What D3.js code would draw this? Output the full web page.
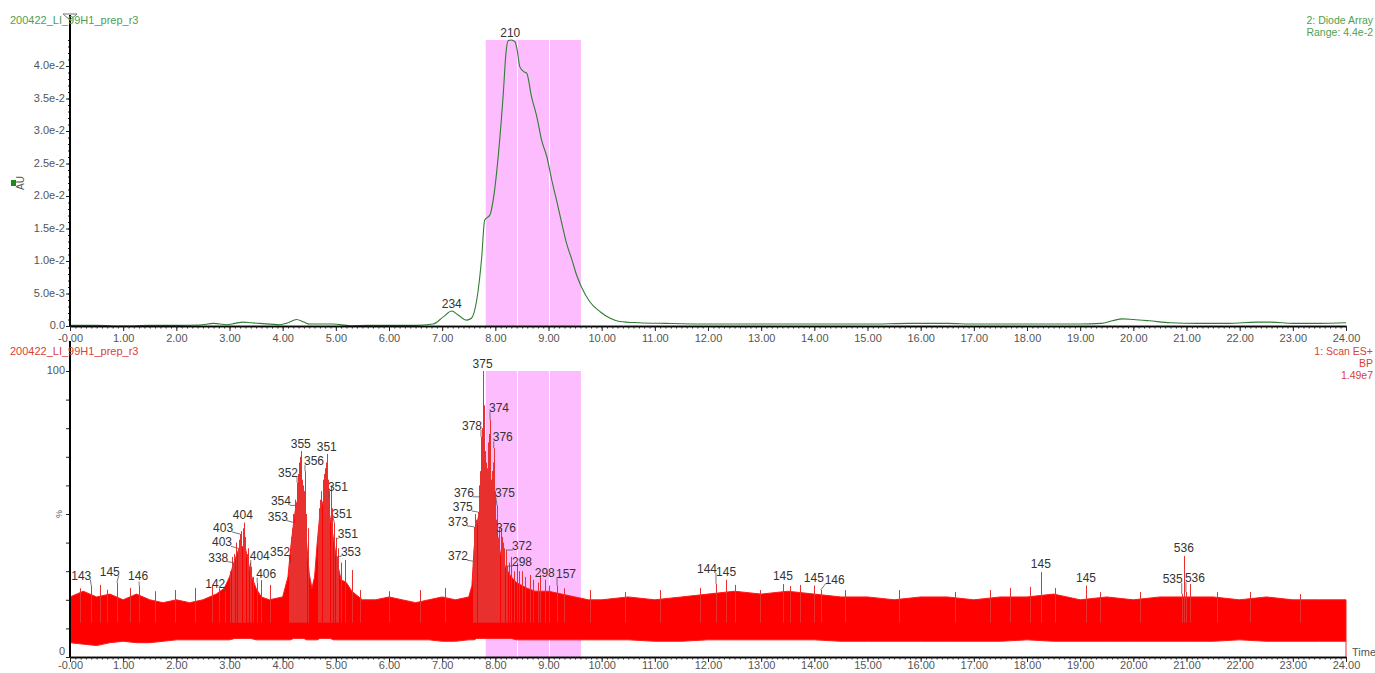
<!DOCTYPE html>
<html>
<head>
<meta charset="utf-8">
<script src="https://cdn.jsdelivr.net/npm/d3@7"></script>
<style>
  body { margin: 0; background: #fff; }
  svg { display: block; }
  text { font-family: "Liberation Sans", Arial, sans-serif; }
</style>
</head>
<body>
<svg id="chart" width="1375" height="673"></svg>
<script>
// ---------- Diode array (UV) trace ----------
const uvTime = [0, 0.5, 1.0, 1.5, 2.0, 2.44, 2.7, 2.95, 3.1, 3.26, 3.4, 3.57, 3.95, 4.1, 4.26, 4.4, 4.51, 4.75, 4.95, 5.27, 5.6, 6.0, 6.5, 6.83, 7.02, 7.18, 7.30, 7.46, 7.55, 7.65, 7.74, 7.80, 7.90, 7.96, 8.06, 8.15, 8.20, 8.24, 8.30, 8.37, 8.41, 8.46, 8.54, 8.59, 8.68, 8.78, 8.87, 8.97, 9.06, 9.15, 9.25, 9.34, 9.44, 9.53, 9.62, 9.78, 9.97, 10.16, 10.34, 10.7, 11.2, 12.0, 13.0, 14.0, 15.0, 15.8, 16.5, 17.0, 18.0, 19.0, 19.4, 19.6, 19.8, 20.0, 20.3, 20.7, 21.2, 21.8, 22.3, 22.6, 23.0, 23.5, 24.0];
const uvValue = [0.0001, 0.0001, 0.0000, 0.0001, 0.0001, 0.00015, 0.0004, 0.0002, 0.0004, 0.0006, 0.0005, 0.0004, 0.0002, 0.0005, 0.0010, 0.0006, 0.0003, 0.0003, 0.0003, 0.00005, 0.0001, 0.0001, 0.0001, 0.0003, 0.0014, 0.0023, 0.0017, 0.0009, 0.0012, 0.0040, 0.0102, 0.0163, 0.0171, 0.0194, 0.0266, 0.0358, 0.0420, 0.0439, 0.0440, 0.0437, 0.0425, 0.0399, 0.0391, 0.0389, 0.0353, 0.0322, 0.0286, 0.0260, 0.0225, 0.0194, 0.0158, 0.0127, 0.0102, 0.0078, 0.0060, 0.0037, 0.0022, 0.0012, 0.0007, 0.0005, 0.0004, 0.0003, 0.0003, 0.0003, 0.0003, 0.0004, 0.0004, 0.0003, 0.0003, 0.0003, 0.0004, 0.0008, 0.0011, 0.0010, 0.0008, 0.0005, 0.0004, 0.0004, 0.0006, 0.0006, 0.0004, 0.0004, 0.0005];
const uvPeakTime = [7.18, 8.28];
const uvPeakValue = [0.0023, 0.0438];
const uvPeakLabel = ["234", "210"];

// ---------- Base peak (ES+) trace: dense band envelope ----------
const ticTime = [0, 0.25, 0.5, 0.75, 1.0, 1.25, 1.5, 1.75, 2.0, 2.25, 2.5, 2.75, 2.9, 3.0, 3.1, 3.2, 3.3, 3.4, 3.5, 3.6, 3.75, 4.0, 4.1, 4.15, 4.2, 4.25, 4.3, 4.35, 4.4, 4.45, 4.5, 4.55, 4.6, 4.65, 4.7, 4.75, 4.8, 4.85, 4.9, 4.95, 5.0, 5.05, 5.1, 5.2, 5.3, 5.5, 5.75, 6.0, 6.25, 6.5, 6.75, 7.0, 7.25, 7.5, 7.56, 7.6, 7.65, 7.7, 7.75, 7.8, 7.85, 7.9, 7.95, 8.0, 8.05, 8.1, 8.2, 8.3, 8.4, 8.5, 8.6, 8.75, 9.0, 9.25, 9.5, 9.75, 10.0, 10.5, 11.0, 11.5, 12.0, 12.5, 13.0, 13.5, 14.0, 14.5, 15.0, 15.5, 16.0, 16.5, 17.0, 17.5, 18.0, 18.5, 19.0, 19.5, 20.0, 20.5, 21.0, 21.5, 22.0, 22.5, 23.0, 23.5, 24.0];
const ticUpper = [21, 23, 21, 22, 20, 22, 20, 19, 20, 19, 20, 22, 24, 28, 34, 39, 38, 29, 24, 21, 20, 21, 28, 38, 46, 53, 56, 54, 50, 40, 29, 24, 28, 40, 50, 54, 56, 53, 48, 42, 36, 31, 27, 26, 23, 20, 20, 21, 20, 19, 20, 21, 20, 21, 25, 38, 46, 51, 54, 56, 54, 53, 50, 46, 40, 36, 31, 28, 26, 25, 24, 23, 23, 22, 21, 20, 20, 21, 20, 21, 22, 23, 22, 23, 22, 21, 21, 20, 21, 21, 20, 21, 21, 22, 20, 21, 20, 21, 21, 21, 20, 21, 20, 20, 20];
const ticLower = [5, 4.5, 4, 5, 5.5, 5, 5, 5.5, 6, 6, 6, 6, 6, 6, 6.5, 6.5, 6.5, 6.5, 6, 6, 6, 6, 6, 6, 6.5, 6.5, 6.5, 6.5, 6.5, 6, 6, 6, 6, 6, 6.5, 6.5, 6.5, 6.5, 6.5, 6, 6, 6, 6, 6, 6, 6, 6, 6, 6, 6, 6, 5.5, 5.5, 6, 6, 6, 6.5, 6.5, 6.5, 6.5, 6.5, 6.5, 6.5, 6.5, 6.5, 6.5, 6.5, 6.5, 6, 6, 6, 6, 6, 6, 6, 6, 6, 6, 5.5, 5.5, 6, 6, 6, 6, 6, 5.5, 5.5, 5.5, 5.5, 5.5, 5.5, 5.5, 6, 5.5, 5.5, 5.5, 5.5, 5.5, 5.5, 5.5, 6, 5.5, 5.5, 5.5, 5.5];

// Individual spikes rising above the band
const spikeTime = [0.18, 0.56, 0.7, 1.13, 1.6, 1.97, 2.35, 2.67, 2.8,
  3.0, 3.05, 3.08, 3.13, 3.18, 3.22, 3.25, 3.28, 3.3, 3.33, 3.35, 3.38, 3.45, 3.6, 3.76,
  4.12, 4.16, 4.18, 4.2, 4.23, 4.24, 4.28, 4.3, 4.31, 4.33, 4.36, 4.38, 4.4, 4.44, 4.47, 4.48,
  4.66, 4.69, 4.7, 4.72, 4.75, 4.77, 4.8, 4.81, 4.85, 4.88, 4.9, 4.92, 4.93, 4.96, 5.05, 5.1, 5.17, 5.3, 5.45,
  6.0, 6.58, 7.05, 7.59, 7.62, 7.63, 7.69, 7.72, 7.74, 7.75, 7.78, 7.8, 7.82, 7.84, 7.86, 7.88, 7.92, 7.93, 7.95, 7.99, 8.0, 8.02, 8.07, 8.1, 8.12, 8.15, 8.17, 8.25, 8.3, 8.35, 8.4, 8.45, 8.5, 8.55, 8.65, 8.7, 8.8, 8.84, 9.0, 9.3,
  9.78, 10.44, 11.1, 11.85, 12.5, 12.98, 13.54, 13.73, 14.58, 15.6, 16.64, 17.3, 17.68, 18.05, 18.52, 19.37, 20.12, 21.06, 21.57, 22.19, 23.13];
const spikeValue = [24, 25.2, 23.5, 24.1, 23, 23.4, 24.1, 25.2, 24,
  30, 35, 36, 40, 41, 44, 45, 40, 42, 36, 38, 33, 28, 26.9, 25.2,
  35, 42, 45, 50, 52, 55, 64, 66, 68, 70, 62, 60, 58, 50, 45, 40,
  45, 52, 55, 58, 62, 64, 66, 68, 62, 58, 60, 52, 50, 45, 38, 33, 33.9, 30.4, 23.4,
  23, 23.4, 24.1, 40, 50, 48, 60, 65, 70, 80, 88, 72, 68, 66, 75, 78, 62, 65, 68, 58, 55, 48, 45, 45, 42, 40, 38, 33, 35, 30, 33, 30, 30, 28, 28.7, 27, 26, 28.7, 25, 24,
  23.4, 22.7, 23.4, 24.1, 25.2, 23.4, 24.8, 25.2, 23.4, 23.4, 22.7, 23.4, 24.1, 24.5, 24.1, 22.7, 22.7, 25.5, 22.7, 22.7, 22.0];

// Annotated base peaks (m/z)
const msPeakTime = [0.40, 0.88, 1.30, 2.92, 3.07, 3.16, 3.20, 3.27, 3.40, 3.52, 4.14, 4.21, 4.25, 4.27, 4.34, 4.42, 4.83, 4.87, 4.97, 5.00, 5.02, 7.76, 7.90, 7.73, 7.97, 7.71, 8.03, 7.67, 7.60, 8.05, 7.58, 8.20, 8.22, 8.93, 9.16, 12.15, 12.34, 13.41, 13.99, 14.12, 18.26, 19.11, 20.95, 20.91, 20.99];
const msPeakValue = [25, 26, 25, 23, 33, 38, 43, 47, 31.5, 26, 33, 47, 53, 61, 72, 65, 71, 55.5, 47, 41.5, 35, 100, 83, 77, 73, 56, 53, 50.7, 45.5, 41.6, 33.5, 37.4, 31.8, 27, 25, 25.5, 27, 25.5, 25, 23.5, 29.7, 25, 35.3, 22, 22.7];
const msPeakLabel = ["143", "145", "146", "142", "338", "403", "403", "404", "404", "406", "352", "353", "354", "352", "355", "356", "351", "351", "351", "351", "353", "375", "374", "378", "376", "376", "375", "375", "373", "376", "372", "372", "298", "298", "157", "144", "145", "145", "145", "146", "145", "145", "536", "535", "536"];

// Collected fractions (minutes)
const fractionEdges = [7.82, 8.41, 9.01, 9.61];

// Axis ticks
const timeMajor = d3.range(0, 24.001, 1);
const timeMinor = d3.range(0, 24.001, 0.1);
const uvMajor = d3.range(0, 0.0401, 0.005);
const uvMinor = d3.range(0, 0.0441, 0.001);
const msTicks = d3.range(0, 100.1, 10);

// ---------- layout ----------
const svg = d3.select("#chart");
const x = d3.scaleLinear([0, 24], [70, 1346]);
const yUV = d3.scaleLinear([0, 0.044], [326, 40]);
const yMS = d3.scaleLinear([0, 100], [657, 371]);

// label placement [dx, dy] relative to the peak apex (label centre)
const uvLabelOffset = [[0, -7], [0, -8]];
const msLabelOffset = [[-10, -10], [-7, -11], [-1, -10], [-10, -7], [-15, -5], [-16, -6], [-17, -6], [-1, -8], [9, -11], [9, -9],
  [-10, -11], [-16, -6], [-15, -4], [-9, -10], [0, -7], [9, -10], [0, -7], [9, -11], [8, -9], [12, -4], [14, -5],
  [0, -7], [9, -12], [-9, -11], [9, -11], [-16, -4], [8, -12], [-15, -5], [-16, -5], [8, -10], [-15, -5], [16, -4], [15, -4], [0, -7], [9, -12],
  [-9, -15], [0, -8], [0, -8], [0, -8], [14, -10], [0, -8], [0, -8], [0, -8], [-9, -15], [9, -14]];

const GREEN_TEXT = "#4f9f4f";
const RED_TEXT = "#d9403c";
const TICK_TEXT = "#555";

// ---------- fraction bands ----------
function drawFractions(yTop, yBottom) {
  const g = svg.append("g");
  g.append("rect")
    .attr("x", x(fractionEdges[0])).attr("y", yTop)
    .attr("width", x(fractionEdges[fractionEdges.length - 1]) - x(fractionEdges[0]))
    .attr("height", yBottom - yTop)
    .attr("fill", "#fdbcfd");
  g.selectAll("line").data(fractionEdges.slice(1, -1)).join("line")
    .attr("x1", d => Math.round(x(d)) + 0.5).attr("x2", d => Math.round(x(d)) + 0.5)
    .attr("y1", yTop).attr("y2", yBottom)
    .attr("stroke", "#fff").attr("stroke-width", 1);
}
drawFractions(yUV(0.044), yUV(0));
drawFractions(yMS(100), yMS(0));

// ---------- UV trace ----------
const uvData = uvTime.map((t, i) => [t, uvValue[i]]);
svg.append("path")
  .datum(uvData)
  .attr("d", d3.line().x(d => x(d[0])).y(d => yUV(d[1])).curve(d3.curveMonotoneX))
  .attr("fill", "none").attr("stroke", "#2f7d32").attr("stroke-width", 1.1);

// ---------- MS trace ----------
const ticData = ticTime.map((t, i) => [t, ticLower[i], ticUpper[i]]);
svg.append("path")
  .datum(ticData)
  .attr("d", d3.area().x(d => x(d[0])).y0(d => yMS(d[1])).y1(d => yMS(d[2])))
  .attr("fill", "#ff0000").attr("stroke", "#ff1a1a").attr("stroke-width", 1);

const spikes = spikeTime.map((t, i) => [t, spikeValue[i]])
  .concat(msPeakTime.map((t, i) => [t, msPeakValue[i]]));
svg.append("g").selectAll("line").data(spikes).join("line")
  .attr("x1", d => Math.round(x(d[0])) + 0.5).attr("x2", d => Math.round(x(d[0])) + 0.5)
  .attr("y1", yMS(12)).attr("y2", d => yMS(d[1]))
  .attr("stroke", "#e8302e").attr("stroke-width", 1);

// end of acquisition drop
svg.append("line")
  .attr("x1", x(24)).attr("x2", x(24))
  .attr("y1", yMS(ticLower[ticLower.length - 1])).attr("y2", yMS(0))
  .attr("stroke", "#e8302e").attr("stroke-width", 1);

// ---------- peak labels ----------
function drawLabels(times, values, labels, offsets, xs, ys) {
  const g = svg.append("g");
  times.forEach((t, i) => {
    const px = xs(t), py = ys(values[i]);
    const lx = px + offsets[i][0], ly = py + offsets[i][1];
    const txt = g.append("text")
      .attr("x", lx).attr("y", ly + 4)
      .attr("text-anchor", "middle")
      .attr("font-size", 12).attr("fill", "#333")
      .text(labels[i]);
    const w = txt.node().getComputedTextLength();
    const dx = offsets[i][0];
    let sx, sy;
    if (dx <= -4) { sx = lx + w / 2 - 1; sy = ly + 4; }
    else if (dx >= 4) { sx = lx - w / 2 + 1; sy = ly + 4; }
    else if (offsets[i][1] <= -9) { sx = px; sy = ly + 6; }
    else return;
    g.append("line")
      .attr("x1", sx).attr("y1", sy).attr("x2", px).attr("y2", py)
      .attr("stroke", "#555").attr("stroke-width", 0.8);
  });
}
drawLabels(uvPeakTime, uvPeakValue, uvPeakLabel, uvLabelOffset, x, yUV);
drawLabels(msPeakTime, msPeakValue, msPeakLabel, msLabelOffset, x, yMS);

// ---------- axes ----------
function timeAxis(yPos, labelGap) {
  const fmt = d => d === 0 ? "-0.00" : d.toFixed(2);
  const major = svg.append("g").attr("transform", `translate(0,${yPos})`)
    .call(d3.axisBottom(x).tickValues(timeMajor).tickFormat(fmt).tickSize(5).tickSizeOuter(0));
  const minor = svg.append("g").attr("transform", `translate(0,${yPos})`)
    .call(d3.axisBottom(x).tickValues(timeMinor).tickFormat("").tickSize(2.5).tickSizeOuter(0));
  [major, minor].forEach(g => {
    g.select(".domain").attr("stroke", "#000").attr("stroke-width", 1.6);
    g.selectAll(".tick line").attr("stroke", "#222");
  });
  major.selectAll(".tick text")
    .attr("font-family", "'Liberation Sans', Arial, sans-serif")
    .attr("font-size", 11).attr("fill", TICK_TEXT).attr("y", labelGap).attr("dy", "0.71em");
}
timeAxis(yUV(0), 8);
timeAxis(yMS(0), 4);

// UV intensity axis
const uvMajorG = svg.append("g").attr("transform", `translate(${x(0)},0)`)
  .call(d3.axisLeft(yUV).tickValues(uvMajor)
    .tickFormat(d => d === 0 ? "0.0" : d3.format(".1e")(d))
    .tickSize(4).tickSizeOuter(0));
const uvMinorG = svg.append("g").attr("transform", `translate(${x(0)},0)`)
  .call(d3.axisLeft(yUV).tickValues(uvMinor).tickFormat("").tickSize(2).tickSizeOuter(0));
[uvMajorG, uvMinorG].forEach(g => { g.select(".domain").remove(); g.selectAll(".tick line").attr("stroke", "#222"); });
uvMajorG.selectAll(".tick text").attr("font-family", "'Liberation Sans', Arial, sans-serif")
  .attr("font-size", 11).attr("fill", TICK_TEXT).attr("x", -5).attr("dy", "0.25em");
svg.append("line").attr("x1", x(0)).attr("x2", x(0)).attr("y1", yUV(0)).attr("y2", 15)
  .attr("stroke", "#000").attr("stroke-width", 2);

// MS relative abundance axis
const msG = svg.append("g").attr("transform", `translate(${x(0)},0)`)
  .call(d3.axisLeft(yMS).tickValues(msTicks)
    .tickFormat(d => (d === 0 || d === 100) ? String(d) : "")
    .tickSize(4).tickSizeOuter(0));
msG.select(".domain").remove();
msG.selectAll(".tick line").attr("stroke", "#222");
msG.selectAll(".tick text").attr("font-family", "'Liberation Sans', Arial, sans-serif")
  .attr("font-size", 11).attr("fill", TICK_TEXT).attr("x", -5)
  .attr("dy", d => d === 0 ? "-0.2em" : "0.25em");
svg.append("line").attr("x1", x(0)).attr("x2", x(0)).attr("y1", yMS(0)).attr("y2", 341)
  .attr("stroke", "#000").attr("stroke-width", 2);

// axis titles
svg.append("text").attr("transform", `translate(${x(0) - 8},${yMS(50)}) rotate(-90)`)
  .attr("text-anchor", "middle").attr("font-size", 9).attr("fill", TICK_TEXT).text("%");
svg.append("text").attr("transform", "translate(24,183) rotate(-90)")
  .attr("text-anchor", "middle").attr("font-size", 10).attr("fill", TICK_TEXT).text("AU");
svg.append("rect").attr("x", 11).attr("y", 180).attr("width", 5).attr("height", 6).attr("fill", "#1b8a1b");
svg.append("text").attr("x", 1352).attr("y", 656).attr("font-size", 11).attr("fill", TICK_TEXT).text("Time");

// top-of-axis marker
svg.append("path")
  .attr("d", `M${x(0) - 7},14 L${x(0) + 7},14 L${x(0)},20 Z`)
  .attr("fill", "none").attr("stroke", "#777").attr("stroke-width", 1);

// ---------- headers ----------
svg.append("text").attr("x", 10).attr("y", 24).attr("font-size", 11).attr("fill", GREEN_TEXT)
  .text("200422_LI_99H1_prep_r3");
svg.append("text").attr("x", 1373).attr("y", 24).attr("text-anchor", "end").attr("font-size", 10.5).attr("fill", GREEN_TEXT)
  .text("2: Diode Array");
svg.append("text").attr("x", 1373).attr("y", 36).attr("text-anchor", "end").attr("font-size", 10.5).attr("fill", GREEN_TEXT)
  .text("Range: 4.4e-2");
svg.append("text").attr("x", 10).attr("y", 355).attr("font-size", 11).attr("fill", RED_TEXT)
  .text("200422_LI_99H1_prep_r3");
svg.append("text").attr("x", 1373).attr("y", 355).attr("text-anchor", "end").attr("font-size", 10.5).attr("fill", RED_TEXT)
  .text("1: Scan ES+");
svg.append("text").attr("x", 1373).attr("y", 367).attr("text-anchor", "end").attr("font-size", 10.5).attr("fill", RED_TEXT)
  .text("BP");
svg.append("text").attr("x", 1373).attr("y", 379).attr("text-anchor", "end").attr("font-size", 10.5).attr("fill", RED_TEXT)
  .text("1.49e7");
</script>
</body>
</html>
